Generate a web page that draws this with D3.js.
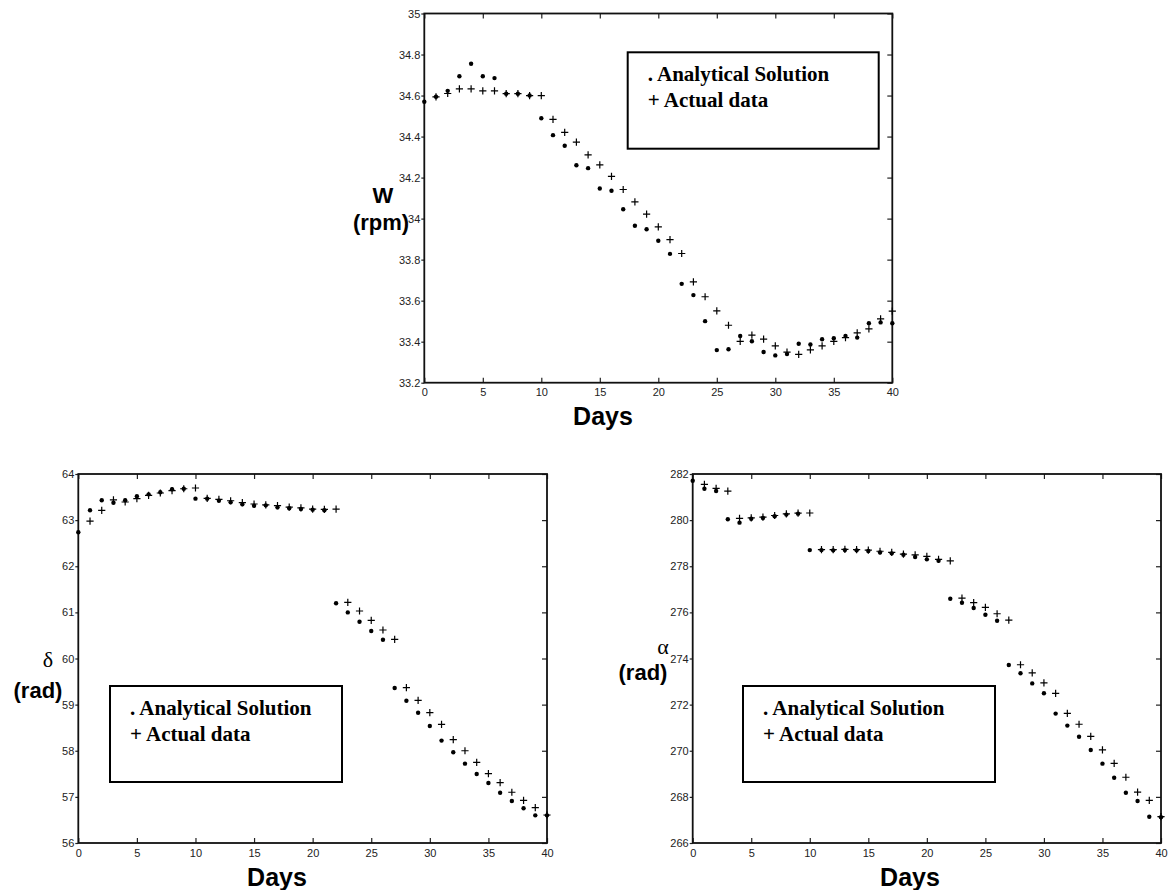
<!DOCTYPE html>
<html>
<head>
<meta charset="utf-8">
<script src="https://cdn.jsdelivr.net/npm/d3@7"></script>
<style>
  body { margin: 0; background: #fff; }
  svg { display: block; }
</style>
</head>
<body>
<svg id="fig" width="1168" height="890"></svg>
<script>
// days on the x axis (0..40)
const days = [0,1,2,3,4,5,6,7,8,9,10,11,12,13,14,15,16,17,18,19,20,
              21,22,23,24,25,26,27,28,29,30,31,32,33,34,35,36,37,38,39,40];
const xTicks = [0, 5, 10, 15, 20, 25, 30, 35, 40];

// W (rpm)
const wAnalytical = [34.57,34.594,34.623,34.694,34.755,34.694,34.685,34.609,34.609,34.60,
  34.489,34.407,34.355,34.26,34.246,34.147,34.136,34.046,33.965,33.948,
  33.892,33.828,33.682,33.627,33.50,33.359,33.363,33.428,33.402,33.35,
  33.333,33.34,33.39,33.386,33.412,33.417,33.428,33.42,33.49,33.494,33.49];
const wActual = [null,34.594,34.61,34.633,34.633,34.623,34.623,34.609,34.609,34.60,
  34.60,34.484,34.42,34.373,34.311,34.262,34.206,34.142,34.082,34.022,
  33.96,33.898,33.83,33.692,33.619,33.55,33.48,33.401,33.432,33.412,
  33.38,33.349,33.338,33.36,33.38,33.401,33.42,33.443,33.462,33.511,33.549];
const wTicks = [33.2,33.4,33.6,33.8,34,34.2,34.4,34.6,34.8,35];

// delta (rad)
const deltaAnalytical = [62.736,63.213,63.43,63.378,63.43,63.516,63.559,63.603,63.668,63.68,
  63.466,63.466,63.422,63.386,63.343,63.313,63.32,63.277,63.256,63.24,
  63.227,63.213,61.197,61.0,60.798,60.596,60.408,59.36,59.085,58.825,
  58.537,58.22,57.966,57.72,57.496,57.3,57.09,56.91,56.752,56.6,56.6];
const deltaActual = [null,62.98,63.213,63.437,63.393,63.466,63.537,63.588,63.64,63.68,
  63.697,63.47,63.45,63.42,63.38,63.35,63.33,63.313,63.28,63.265,
  63.24,63.234,63.24,61.218,61.03,60.828,60.618,60.416,59.367,59.093,
  58.825,58.573,58.24,58.0,57.75,57.503,57.31,57.1,56.926,56.766,56.607];
const deltaTicks = [56,57,58,59,60,61,62,63,64];

// alpha (rad)
const alphaAnalytical = [281.71,281.36,281.26,280.04,279.89,280.06,280.09,280.17,280.24,280.28,
  278.70,278.70,278.69,278.70,278.69,278.66,278.60,278.56,278.50,278.40,
  278.30,278.24,276.59,276.42,276.19,275.90,275.64,273.72,273.36,272.92,
  272.49,271.61,271.09,270.61,270.03,269.44,268.83,268.18,267.82,267.14,267.12];
const alphaActual = [null,281.55,281.38,281.26,280.08,280.10,280.13,280.20,280.27,280.30,
  280.31,278.72,278.72,278.73,278.72,278.70,278.65,278.60,278.53,278.49,
  278.43,278.30,278.23,276.62,276.42,276.22,275.94,275.66,273.73,273.38,
  272.94,272.49,271.62,271.15,270.62,270.04,269.45,268.85,268.21,267.85,267.14];
const alphaTicks = [266,268,270,272,274,276,278,280,282];

const legendLines = [". Analytical Solution", "+ Actual data"];

const svg = d3.select("#fig");

function drawPanel(cfg) {
    const g = svg.append("g");
    const x = d3.scaleLinear().domain([0, 40]).range([cfg.left, cfg.right]);
    const y = d3.scaleLinear().domain(cfg.yDomain).range([cfg.bottom, cfg.top]);
    const fmt = d => String(+d.toFixed(1));

    // bottom axis, inward ticks
    g.append("g")
        .attr("transform", `translate(0,${cfg.bottom})`)
        .call(d3.axisBottom(x).tickValues(xTicks).tickSize(-5).tickPadding(6).tickFormat(fmt))
        .call(a => a.select(".domain").remove());
    // top axis ticks only
    g.append("g")
        .attr("transform", `translate(0,${cfg.top})`)
        .call(d3.axisTop(x).tickValues(xTicks).tickSize(-5).tickFormat(""))
        .call(a => a.select(".domain").remove());
    // left axis
    g.append("g")
        .attr("transform", `translate(${cfg.left},0)`)
        .call(d3.axisLeft(y).tickValues(cfg.yTicks).tickSize(3).tickPadding(1).tickFormat(fmt))
        .call(a => a.select(".domain").remove());
    // right axis ticks only
    g.append("g")
        .attr("transform", `translate(${cfg.right},0)`)
        .call(d3.axisRight(y).tickValues(cfg.yTicks).tickSize(-5).tickFormat(""))
        .call(a => a.select(".domain").remove());

    g.selectAll(".tick text")
        .attr("font-family", "Liberation Sans, Arial, sans-serif")
        .attr("font-size", 11)
        .attr("fill", "#222");
    g.selectAll(".tick line").attr("stroke", "#222").attr("stroke-width", 1.2);

    // frame
    g.append("rect")
        .attr("x", cfg.left).attr("y", cfg.top)
        .attr("width", cfg.right - cfg.left).attr("height", cfg.bottom - cfg.top)
        .attr("fill", "none").attr("stroke", "#111").attr("stroke-width", 1.8);

    // analytical solution (dots)
    g.append("g").selectAll("circle")
        .data(days.map((d, i) => ({day: d, v: cfg.analytical[i]})).filter(d => d.v != null))
        .join("circle")
        .attr("cx", d => x(d.day))
        .attr("cy", d => y(d.v))
        .attr("r", 2.2)
        .attr("fill", "#000");

    // actual data (plus)
    g.append("g").selectAll("path")
        .data(days.map((d, i) => ({day: d, v: cfg.actual[i]})).filter(d => d.v != null))
        .join("path")
        .attr("transform", d => `translate(${x(d.day)},${y(d.v)})`)
        .attr("d", "M-3.6,0H3.6M0,-3.6V3.6")
        .attr("stroke", "#000")
        .attr("stroke-width", 1.2)
        .attr("fill", "none");

    // legend box
    const lb = cfg.legend;
    g.append("rect")
        .attr("x", lb.x).attr("y", lb.y).attr("width", lb.w).attr("height", lb.h)
        .attr("fill", "#fff").attr("stroke", "#000").attr("stroke-width", 2);
    g.append("g").selectAll("text")
        .data(legendLines)
        .join("text")
        .attr("x", lb.x + 20)
        .attr("y", (d, i) => lb.y + 29 + i * 26)
        .attr("font-family", "Liberation Serif, Times New Roman, serif")
        .attr("font-weight", "bold")
        .attr("font-size", 21)
        .text(d => d);

    // x label
    g.append("text")
        .attr("x", cfg.xLabel.x).attr("y", cfg.xLabel.y)
        .attr("text-anchor", "middle")
        .attr("font-family", "Liberation Sans, Arial, sans-serif")
        .attr("font-weight", "bold").attr("font-size", 25)
        .text("Days");

    // y label: symbol + unit
    g.append("text")
        .attr("x", cfg.yLabel.x1).attr("y", cfg.yLabel.y1)
        .attr("text-anchor", "middle")
        .attr("font-family", cfg.yLabel.symbolFont)
        .attr("font-weight", cfg.yLabel.symbolWeight)
        .attr("font-size", 22)
        .text(cfg.yLabel.symbol);
    g.append("text")
        .attr("x", cfg.yLabel.x2).attr("y", cfg.yLabel.y2)
        .attr("text-anchor", "middle")
        .attr("font-family", "Liberation Sans, Arial, sans-serif")
        .attr("font-weight", "bold").attr("font-size", 22)
        .text(cfg.yLabel.unit);
}

drawPanel({
    left: 424.3, right: 892.3, top: 13.5, bottom: 382.7,
    yDomain: [33.2, 35], yTicks: wTicks,
    analytical: wAnalytical, actual: wActual,
    legend: {x: 627.7, y: 52.3, w: 251, h: 96.4},
    xLabel: {x: 603, y: 425},
    yLabel: {symbol: "W", unit: "(rpm)", x1: 383, y1: 203, x2: 381, y2: 230,
             symbolFont: "Liberation Sans, Arial, sans-serif", symbolWeight: "bold"}
});

drawPanel({
    left: 78.3, right: 547, top: 474, bottom: 843,
    yDomain: [56, 64], yTicks: deltaTicks,
    analytical: deltaAnalytical, actual: deltaActual,
    legend: {x: 110, y: 686, w: 232, h: 96},
    xLabel: {x: 277, y: 886},
    yLabel: {symbol: "δ", unit: "(rad)", x1: 48, y1: 667, x2: 38, y2: 698,
             symbolFont: "Liberation Serif, Times New Roman, serif", symbolWeight: "normal"}
});

drawPanel({
    left: 692.7, right: 1161, top: 474, bottom: 843,
    yDomain: [266, 282], yTicks: alphaTicks,
    analytical: alphaAnalytical, actual: alphaActual,
    legend: {x: 743, y: 686, w: 252, h: 96},
    xLabel: {x: 910, y: 886},
    yLabel: {symbol: "α", unit: "(rad)", x1: 663, y1: 654, x2: 643, y2: 680,
             symbolFont: "Liberation Serif, Times New Roman, serif", symbolWeight: "normal"}
});
</script>
</body>
</html>
